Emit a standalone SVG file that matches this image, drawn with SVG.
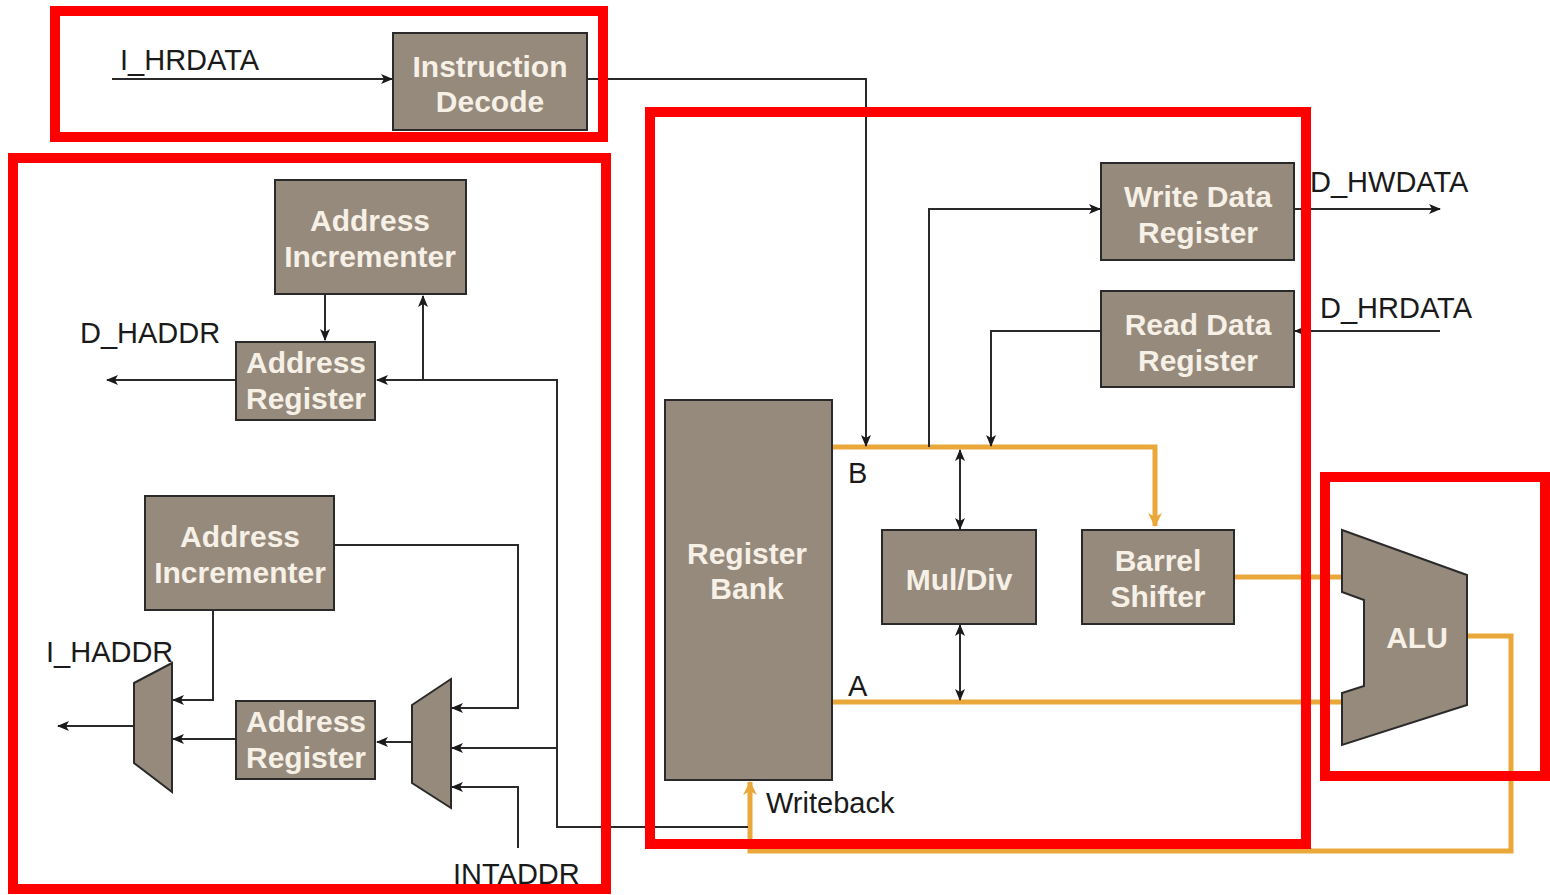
<svg xmlns="http://www.w3.org/2000/svg" width="1550" height="895" viewBox="0 0 1550 895">
<style>
.node{fill:#968a7d;stroke:#2a2a2a;stroke-width:2}
.nt{font-family:"Liberation Sans",Arial,sans-serif;font-weight:bold;font-size:30px;fill:#f6f0e6;text-anchor:middle}
.lbl{font-family:"Liberation Sans",Arial,sans-serif;font-size:29px;fill:#1a1a1a}
.wire{fill:none;stroke:#2a2a2a;stroke-width:2}
.bus{fill:none;stroke:#eaa83a;stroke-width:5}
.red{fill:none;stroke:#ff0000;stroke-width:10}
</style>
<defs>
<marker id="ah" viewBox="0 0 12 10" refX="11" refY="5" markerWidth="12" markerHeight="10" orient="auto-start-reverse" markerUnits="userSpaceOnUse"><path d="M0,0 L12,5 L0,10 L3,5 Z" fill="#1a1a1a"/></marker>
<marker id="ao" viewBox="0 0 14 14" refX="13" refY="7" markerWidth="14" markerHeight="14" orient="auto" markerUnits="userSpaceOnUse"><path d="M0,0 L14,7 L0,14 L4,7 Z" fill="#eaa83a"/></marker>
</defs>
<rect width="1550" height="895" fill="#ffffff"/>

<g id="connectors">
<path class="bus" d="M832,447 H1155 V526" marker-end="url(#ao)"/>
<path class="bus" d="M832,702 H1342"/>
<path class="bus" d="M1234,577 H1342"/>
<path class="bus" d="M1467,636 H1511 V851 H750 V782" marker-end="url(#ao)"/>
<path class="wire" d="M112,79 H392" marker-end="url(#ah)"/>
<path class="wire" d="M587,79 H866 V446" marker-end="url(#ah)"/>
<path class="wire" d="M929,447 V209 H1100" marker-end="url(#ah)"/>
<path class="wire" d="M1101,331 H991 V446" marker-end="url(#ah)"/>
<path class="wire" d="M1294,209 H1440" marker-end="url(#ah)"/>
<path class="wire" d="M1440,331 H1295" marker-end="url(#ah)"/>
<path class="wire" d="M960,450 V529" marker-start="url(#ah)" marker-end="url(#ah)"/>
<path class="wire" d="M960,625 V700" marker-start="url(#ah)" marker-end="url(#ah)"/>
<path class="wire" d="M325,294 V340" marker-end="url(#ah)"/>
<path class="wire" d="M748,827 H557 V380 H377" marker-end="url(#ah)"/>
<path class="wire" d="M423,380 V296" marker-end="url(#ah)"/>
<path class="wire" d="M236,380 H107" marker-end="url(#ah)"/>
<path class="wire" d="M557,748 H452" marker-end="url(#ah)"/>
<path class="wire" d="M334,545 H518 V708 H452" marker-end="url(#ah)"/>
<path class="wire" d="M518,848 V787 H452" marker-end="url(#ah)"/>
<path class="wire" d="M412,742 H377" marker-end="url(#ah)"/>
<path class="wire" d="M236,739 H173" marker-end="url(#ah)"/>
<path class="wire" d="M213,610 V700 H173" marker-end="url(#ah)"/>
<path class="wire" d="M134,726 H58" marker-end="url(#ah)"/>
</g>

<g id="instruction-decode"><rect class="node" x="393" y="33" width="194" height="97"/><text class="nt" x="490" y="77">Instruction</text><text class="nt" x="490" y="112">Decode</text></g>
<g id="addr-inc-top"><rect class="node" x="275" y="180" width="191" height="114"/><text class="nt" x="370" y="231">Address</text><text class="nt" x="370" y="267">Incrementer</text></g>
<g id="addr-reg-top"><rect class="node" x="236" y="342" width="139" height="78"/><text class="nt" x="306" y="373">Address</text><text class="nt" x="306" y="409">Register</text></g>
<g id="addr-inc-bottom"><rect class="node" x="145" y="496" width="189" height="114"/><text class="nt" x="240" y="547">Address</text><text class="nt" x="240" y="583">Incrementer</text></g>
<g id="addr-reg-bottom"><rect class="node" x="236" y="701" width="139" height="78"/><text class="nt" x="306" y="732">Address</text><text class="nt" x="306" y="768">Register</text></g>
<g id="mux-left"><polygon class="node" points="134,683 172,663 172,792 134,763"/></g>
<g id="mux-right"><polygon class="node" points="412,705 451,679 451,808 412,783"/></g>
<g id="register-bank"><rect class="node" x="665" y="400" width="167" height="380"/><text class="nt" x="747" y="564">Register</text><text class="nt" x="747" y="599">Bank</text></g>
<g id="write-data-register"><rect class="node" x="1101" y="163" width="193" height="97"/><text class="nt" x="1198" y="207">Write Data</text><text class="nt" x="1198" y="243">Register</text></g>
<g id="read-data-register"><rect class="node" x="1101" y="291" width="193" height="96"/><text class="nt" x="1198" y="335">Read Data</text><text class="nt" x="1198" y="371">Register</text></g>
<g id="mul-div"><rect class="node" x="882" y="530" width="154" height="94"/><text class="nt" x="959" y="590">Mul/Div</text></g>
<g id="barrel-shifter"><rect class="node" x="1082" y="530" width="152" height="94"/><text class="nt" x="1158" y="571">Barrel</text><text class="nt" x="1158" y="607">Shifter</text></g>
<g id="alu"><polygon class="node" points="1342,530 1467,575 1467,705 1342,745 1342,693 1364,686 1364,600 1342,592"/><text class="nt" x="1417" y="648">ALU</text></g>

<g id="labels">
<text class="lbl" x="120" y="70">I_HRDATA</text>
<text class="lbl" x="80" y="343">D_HADDR</text>
<text class="lbl" x="46" y="662">I_HADDR</text>
<text class="lbl" x="453" y="884">INTADDR</text>
<text class="lbl" x="1310" y="192">D_HWDATA</text>
<text class="lbl" x="1320" y="318">D_HRDATA</text>
<text class="lbl" x="848" y="483">B</text>
<text class="lbl" x="848" y="696">A</text>
<text class="lbl" x="766" y="813">Writeback</text>
</g>

<g id="highlight-boxes">
<rect class="red" x="55" y="11" width="548" height="126"/>
<rect class="red" x="13" y="158" width="593" height="731"/>
<rect class="red" x="650" y="112" width="656" height="732"/>
<rect class="red" x="1325" y="477" width="220" height="299"/>
</g>
</svg>
